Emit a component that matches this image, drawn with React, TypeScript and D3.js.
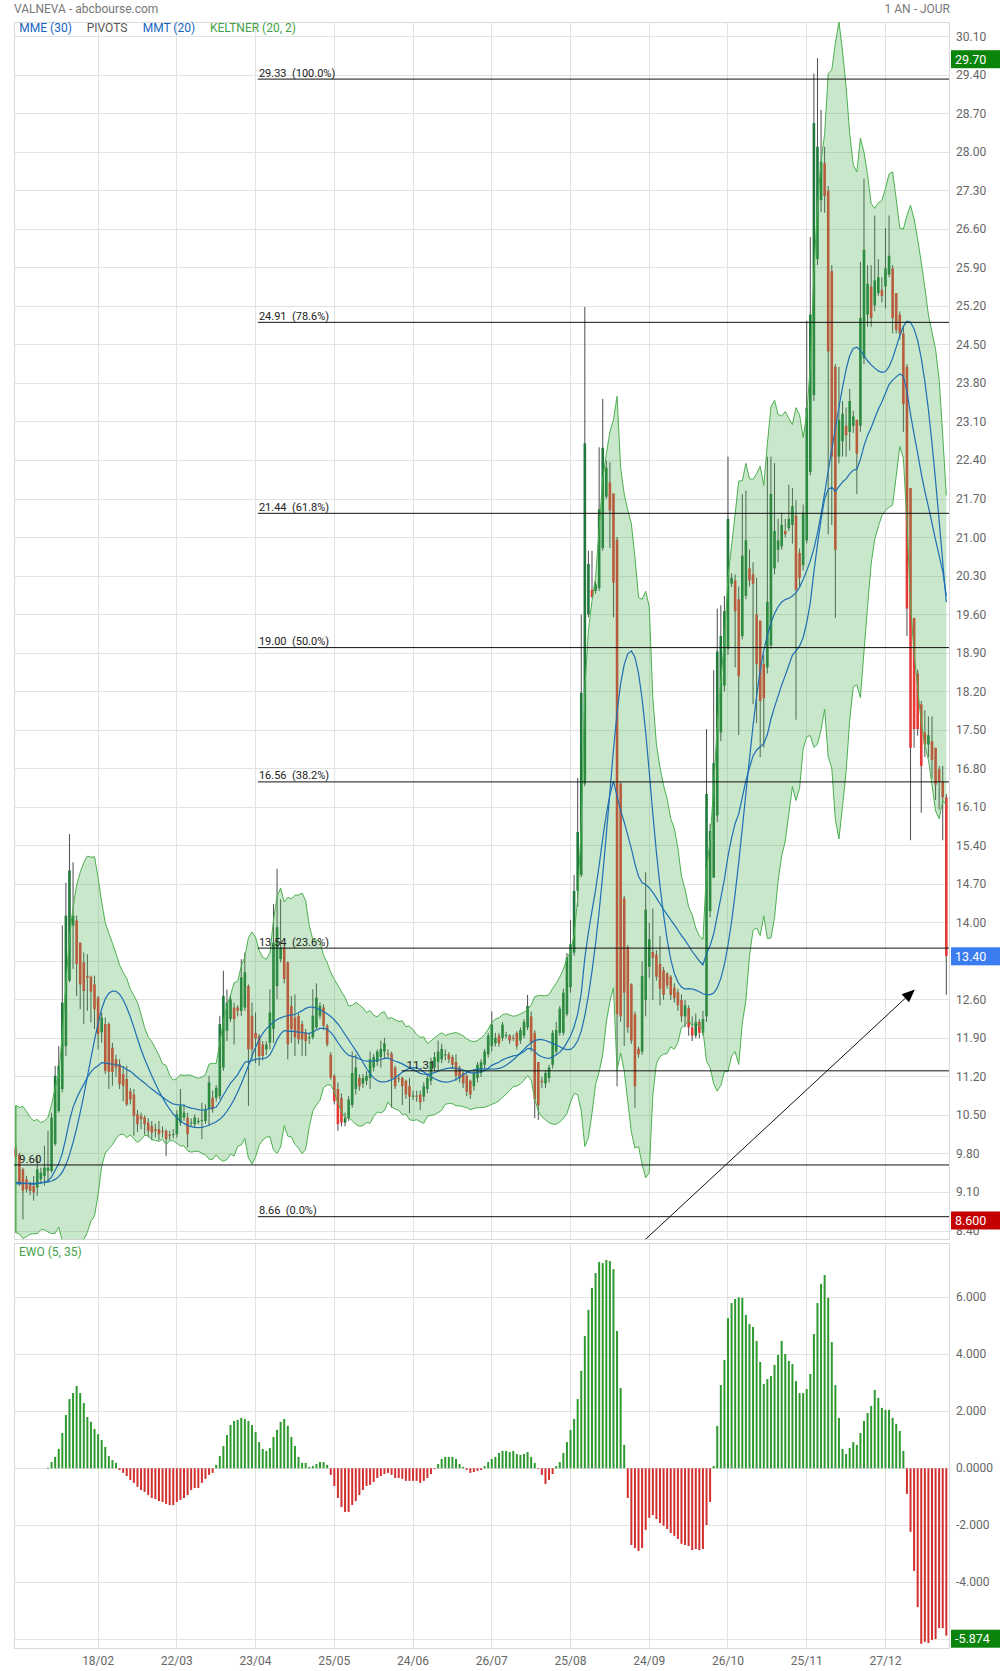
import React from 'react';
import * as d3 from 'd3';

// ---------- DATA ----------
const dateLabels = ['18/02', '22/03', '23/04', '25/05', '24/06', '26/07', '25/08', '24/09', '26/10', '25/11', '27/12'];
const dateIndex = [23, 45, 67, 89, 111, 133, 155, 177, 199, 221, 243];

const open = [
  9.90, 9.79, 9.52, 9.34, 9.25, 9.22, 9.19, 9.34, 9.40, 9.49,
  9.49, 9.98, 10.58, 10.98, 11.76, 12.95, 13.95, 14.04, 13.64, 13.28,
  13.04, 13.02, 12.88, 12.64, 12.01, 12.16, 12.16, 11.73, 11.52, 11.43,
  11.25, 11.16, 10.94, 10.88, 10.52, 10.49, 10.46, 10.37, 10.31, 10.25,
  10.25, 10.22, 10.22, 10.15, 10.16, 10.16, 10.37, 10.46, 10.46, 10.37,
  10.34, 10.40, 10.40, 10.40, 10.61, 10.82, 10.82, 10.85, 11.37, 12.04,
  12.25, 12.46, 12.46, 12.40, 12.46, 12.85, 12.31, 12.00, 11.94, 11.79,
  11.70, 11.82, 12.07, 12.85, 13.34, 13.55, 13.28, 12.49, 12.28, 12.31,
  12.16, 12.01, 11.90, 11.92, 12.10, 12.31, 12.46, 12.13, 11.60, 11.22,
  10.98, 10.82, 10.37, 10.45, 10.69, 10.98, 11.18, 11.08, 11.13, 11.18,
  11.37, 11.47, 11.56, 11.66, 11.63, 11.62, 11.37, 11.18, 11.18, 11.13,
  11.03, 10.84, 10.86, 10.88, 10.84, 10.98, 11.13, 11.37, 11.47, 11.52,
  11.61, 11.61, 11.56, 11.47, 11.37, 11.27, 11.22, 11.13, 11.03, 11.18,
  11.27, 11.42, 11.61, 11.76, 11.81, 11.95, 11.91, 11.95, 11.95, 11.91,
  12.00, 11.86, 11.95, 12.10, 12.30, 12.00, 11.47, 11.13, 11.08, 11.18,
  11.42, 11.66, 12.00, 12.00, 12.34, 12.83, 13.46, 14.58, 14.87, 16.53,
  19.60, 20.05, 20.03, 20.08, 20.81, 21.74, 22.00, 21.80, 20.96, 16.53,
  14.44, 13.56, 12.88, 12.34, 11.71, 11.66, 12.60, 13.20, 13.47, 13.42,
  13.25, 13.14, 13.08, 13.02, 12.82, 12.74, 12.60, 12.30, 12.45, 12.10,
  11.95, 12.20, 12.00, 12.30, 14.21, 14.82, 15.95, 17.46, 18.31, 18.98,
  20.16, 20.22, 19.88, 19.21, 19.94, 20.44, 20.33, 19.60, 19.49, 18.70,
  18.64, 19.04, 20.44, 20.78, 20.84, 21.12, 21.17, 21.23, 21.40, 20.72,
  20.50, 20.95, 22.19, 23.59, 26.06, 27.13, 27.80, 27.30, 25.84, 24.10,
  22.47, 22.75, 23.03, 22.92, 23.03, 23.14, 23.03, 24.26, 25.05, 25.56,
  25.22, 25.44, 25.50, 25.56, 25.78, 25.89, 25.44, 25.05, 24.71, 24.10,
  21.90, 19.54, 18.53, 17.97, 17.46, 17.24, 17.30, 17.18, 16.79, 16.56,
  16.28,
];
const high = [
  10.00, 9.82, 9.55, 9.40, 9.30, 9.40, 9.76, 9.55, 9.95, 10.22,
  10.55, 11.40, 11.76, 13.95, 14.73, 15.61, 15.10, 14.13, 13.64, 13.46,
  13.43, 13.04, 13.04, 12.67, 12.37, 12.28, 12.19, 11.82, 11.60, 11.52,
  11.40, 11.40, 11.00, 10.98, 10.60, 10.55, 10.50, 10.45, 10.40, 10.35,
  10.40, 10.30, 10.25, 10.22, 10.25, 10.60, 10.98, 10.70, 10.55, 10.45,
  10.52, 10.46, 10.73, 10.70, 11.22, 10.95, 11.05, 12.31, 13.13, 12.79,
  12.70, 12.55, 12.50, 13.34, 13.46, 12.88, 12.55, 12.37, 11.98, 11.85,
  11.85, 12.79, 14.34, 14.98, 14.43, 13.60, 13.30, 12.67, 12.70, 12.35,
  12.22, 12.07, 12.00, 12.79, 12.90, 12.55, 12.52, 12.16, 11.65, 11.25,
  11.10, 10.90, 10.55, 10.85, 11.66, 11.61, 11.25, 11.25, 11.30, 11.66,
  11.62, 11.70, 11.86, 11.91, 11.70, 11.66, 11.40, 11.25, 11.20, 11.15,
  11.18, 10.95, 10.95, 10.95, 11.10, 11.25, 11.55, 11.65, 11.86, 11.80,
  11.70, 11.65, 11.60, 11.61, 11.40, 11.30, 11.25, 11.15, 11.32, 11.47,
  11.52, 11.71, 12.00, 12.39, 12.00, 12.00, 12.20, 12.02, 11.98, 11.97,
  12.03, 12.10, 12.25, 12.69, 12.39, 12.05, 11.47, 11.20, 11.32, 11.42,
  12.05, 12.20, 12.49, 12.80, 13.45, 14.05, 14.87, 16.63, 19.60, 25.19,
  20.76, 20.76, 20.20, 22.64, 23.52, 22.40, 22.37, 21.80, 21.01, 16.55,
  14.49, 13.60, 12.90, 12.39, 11.75, 13.30, 14.92, 14.00, 14.26, 13.50,
  13.76, 13.20, 13.10, 13.05, 12.90, 12.80, 12.70, 12.60, 12.50, 12.30,
  12.35, 12.25, 12.40, 17.52, 15.80, 18.59, 19.71, 19.77, 19.94, 22.47,
  20.35, 20.33, 20.11, 21.79, 21.85, 20.78, 20.55, 20.27, 19.49, 18.87,
  22.47, 22.47, 22.35, 21.34, 21.45, 21.34, 21.96, 21.90, 21.68, 20.80,
  21.60, 24.94, 26.46, 29.43, 29.71, 28.77, 28.10, 27.39, 25.95, 24.15,
  24.10, 23.48, 23.36, 23.70, 23.30, 23.14, 26.01, 27.52, 25.95, 25.95,
  26.85, 26.06, 25.73, 26.62, 26.85, 25.95, 25.44, 25.11, 24.83, 24.15,
  21.90, 19.54, 18.60, 18.03, 17.86, 17.75, 17.75, 17.18, 16.85, 16.85,
  16.34,
];
const low = [
  9.60, 9.22, 8.61, 9.10, 9.05, 8.95, 9.04, 9.25, 9.22, 9.28,
  9.46, 9.95, 10.55, 10.92, 11.58, 12.92, 13.16, 12.67, 12.43, 12.16,
  12.40, 12.19, 12.07, 11.70, 11.82, 11.25, 10.98, 11.04, 11.20, 10.98,
  10.76, 10.67, 10.70, 10.13, 10.20, 10.25, 10.15, 10.10, 10.05, 10.10,
  10.05, 10.10, 9.76, 10.05, 10.08, 10.10, 10.31, 10.40, 9.92, 10.30,
  10.28, 10.34, 10.07, 10.35, 10.31, 10.55, 10.75, 10.79, 11.31, 11.85,
  12.20, 11.79, 12.30, 12.31, 12.40, 10.67, 11.52, 11.45, 11.40, 11.50,
  11.60, 11.70, 11.82, 12.61, 13.28, 12.90, 11.52, 11.82, 11.58, 11.80,
  11.58, 11.58, 11.80, 11.88, 12.07, 12.25, 12.05, 11.75, 11.15, 10.70,
  10.22, 10.30, 10.30, 10.40, 10.64, 10.88, 10.95, 11.00, 11.05, 10.98,
  11.30, 11.40, 11.37, 11.52, 11.55, 10.64, 10.98, 11.10, 10.69, 10.80,
  10.54, 10.78, 10.75, 10.60, 10.75, 10.90, 11.05, 11.30, 11.32, 11.45,
  11.50, 11.45, 11.35, 11.13, 11.10, 11.00, 10.85, 10.80, 10.95, 11.10,
  11.20, 11.35, 11.55, 11.66, 11.75, 11.75, 11.85, 11.90, 11.80, 11.85,
  11.70, 11.80, 11.90, 12.05, 11.66, 10.45, 10.42, 11.00, 11.00, 11.10,
  11.35, 11.60, 11.95, 11.95, 12.30, 12.73, 13.40, 14.29, 14.83, 16.48,
  19.55, 19.90, 19.98, 20.03, 20.76, 21.70, 20.81, 19.55, 11.03, 12.20,
  11.76, 12.00, 11.80, 10.64, 11.55, 11.60, 12.30, 13.00, 12.60, 12.95,
  12.50, 12.60, 12.80, 12.60, 12.55, 12.40, 12.20, 12.10, 11.95, 11.85,
  11.90, 11.90, 11.95, 12.20, 14.10, 14.82, 15.83, 17.30, 18.20, 18.87,
  20.10, 18.64, 17.41, 19.15, 19.88, 20.11, 17.97, 17.63, 17.01, 17.18,
  18.53, 18.98, 20.33, 20.55, 20.78, 21.00, 21.12, 20.89, 17.69, 20.10,
  20.40, 20.89, 22.13, 23.48, 25.95, 26.91, 26.90, 21.06, 21.23, 19.54,
  22.35, 22.47, 22.47, 22.58, 22.90, 21.79, 22.92, 24.15, 24.83, 24.83,
  25.11, 25.39, 25.27, 25.16, 25.73, 24.71, 24.71, 24.60, 22.92, 19.21,
  15.50, 17.18, 17.40, 16.00, 17.01, 17.01, 16.62, 16.23, 16.06, 15.50,
  12.69,
];
const close = [
  9.75, 9.25, 9.13, 9.16, 9.13, 9.10, 9.52, 9.46, 9.55, 9.55,
  10.46, 11.22, 11.40, 12.55, 14.13, 14.95, 14.13, 13.25, 12.88, 12.76,
  13.00, 12.75, 12.43, 11.98, 12.28, 11.31, 11.29, 11.29, 11.37, 11.07,
  11.04, 10.70, 10.79, 10.49, 10.34, 10.43, 10.34, 10.22, 10.19, 10.22,
  10.16, 10.20, 10.07, 10.13, 10.16, 10.52, 10.67, 10.55, 10.16, 10.37,
  10.46, 10.40, 10.42, 10.61, 11.10, 10.61, 11.00, 12.16, 12.67, 12.55,
  12.61, 12.25, 12.40, 13.01, 13.10, 11.70, 11.70, 11.90, 11.58, 11.58,
  11.79, 12.37, 13.64, 13.92, 13.55, 12.98, 11.79, 12.07, 11.92, 11.88,
  11.88, 11.85, 11.92, 12.31, 12.64, 12.49, 12.13, 11.79, 11.19, 10.76,
  10.34, 10.37, 10.45, 10.79, 11.27, 11.37, 11.03, 11.18, 11.22, 11.52,
  11.56, 11.66, 11.71, 11.81, 11.61, 11.18, 11.03, 11.16, 11.03, 10.88,
  10.84, 10.86, 10.84, 10.74, 11.03, 11.18, 11.47, 11.56, 11.66, 11.71,
  11.61, 11.52, 11.42, 11.22, 11.18, 11.08, 10.93, 10.88, 11.27, 11.42,
  11.47, 11.66, 11.95, 12.15, 11.91, 11.81, 12.15, 11.96, 11.86, 11.90,
  11.76, 12.05, 12.20, 12.49, 11.81, 10.79, 10.69, 11.10, 11.27, 11.37,
  12.00, 12.05, 12.44, 12.73, 13.37, 13.61, 14.58, 15.65, 18.18, 22.71,
  20.52, 19.92, 20.15, 21.51, 22.63, 22.27, 21.49, 20.18, 12.34, 12.30,
  12.73, 12.10, 11.86, 11.03, 11.61, 13.03, 14.24, 13.70, 13.36, 13.02,
  12.80, 12.69, 12.86, 12.69, 12.63, 12.50, 12.30, 12.50, 12.10, 11.95,
  12.20, 12.00, 12.25, 16.34, 15.67, 16.90, 18.93, 19.21, 19.66, 21.34,
  20.27, 19.66, 18.48, 20.67, 20.95, 20.22, 20.16, 18.70, 18.03, 18.08,
  19.83, 21.79, 21.12, 20.95, 21.23, 21.06, 21.34, 21.57, 20.05, 20.27,
  21.45, 23.36, 25.05, 28.53, 28.10, 27.83, 27.20, 24.38, 22.47, 20.78,
  23.14, 23.25, 22.86, 23.48, 23.20, 22.52, 24.99, 26.23, 25.61, 24.99,
  25.67, 25.73, 25.39, 25.89, 26.12, 24.99, 24.77, 24.71, 23.42, 19.71,
  17.18, 17.52, 17.52, 16.85, 17.24, 17.41, 16.96, 16.51, 16.56, 16.28,
  13.40,
];

// EWO (5, 35) histogram, first bar at index ewoStart
const ewoStart = 9;
const ewo = [
  0.02, 0.22, 0.40, 0.68, 1.24, 1.87, 2.43, 2.64, 2.89, 2.64,
  2.29, 1.80, 1.63, 1.38, 1.20, 0.99, 0.75, 0.43, 0.29, 0.19,
  -0.06, -0.16, -0.27, -0.41, -0.51, -0.65, -0.76, -0.83, -0.94, -1.04,
  -1.08, -1.15, -1.18, -1.25, -1.29, -1.29, -1.18, -1.11, -1.04, -0.94,
  -0.76, -0.69, -0.69, -0.51, -0.37, -0.23, -0.16, 0.12, 0.43, 0.78,
  1.17, 1.52, 1.66, 1.70, 1.77, 1.73, 1.66, 1.52, 1.27, 0.92,
  0.68, 0.61, 0.71, 1.10, 1.35, 1.63, 1.73, 1.49, 1.10, 0.78,
  0.40, 0.19, 0.19, 0.05, 0.08, 0.15, 0.22, 0.22, 0.12, -0.23,
  -0.62, -1.04, -1.36, -1.53, -1.53, -1.29, -1.15, -0.94, -0.76, -0.62,
  -0.58, -0.48, -0.34, -0.27, -0.20, -0.16, -0.23, -0.34, -0.34, -0.37,
  -0.44, -0.44, -0.44, -0.44, -0.51, -0.44, -0.34, -0.20, -0.02, 0.15,
  0.33, 0.40, 0.40, 0.40, 0.33, 0.15, 0.05, -0.06, -0.16, -0.13,
  -0.09, -0.06, 0.08, 0.22, 0.33, 0.40, 0.54, 0.61, 0.61, 0.57,
  0.61, 0.50, 0.47, 0.50, 0.57, 0.40, 0.19, -0.02, -0.23, -0.55,
  -0.41, -0.20, 0.08, 0.22, 0.54, 0.92, 1.35, 1.73, 2.43, 3.42,
  4.64, 5.56, 6.33, 6.85, 7.24, 7.20, 7.31, 7.27, 6.99, 4.82,
  2.82, 0.82, -1.04, -2.69, -2.80, -2.90, -2.80, -2.16, -1.74, -1.64,
  -1.78, -1.92, -2.02, -2.13, -2.27, -2.37, -2.48, -2.65, -2.69, -2.73,
  -2.87, -2.83, -2.87, -2.83, -1.99, -1.18, 0.08, 1.49, 2.92, 3.80,
  5.27, 5.80, 5.94, 6.00, 5.98, 5.38, 5.06, 4.96, 4.47, 3.73,
  2.96, 3.13, 3.24, 3.63, 3.98, 4.47, 4.01, 3.77, 3.66, 3.06,
  2.64, 2.64, 2.78, 3.31, 4.71, 5.80, 6.47, 6.78, 5.98, 4.43,
  2.92, 1.77, 0.68, 0.50, 0.71, 0.92, 0.82, 1.24, 1.66, 1.94,
  2.19, 2.75, 2.47, 2.12, 2.05, 2.05, 1.77, 1.56, 1.31, 0.61,
  -0.90, -2.23, -3.60, -4.87, -6.16, -6.09, -6.13, -6.02, -5.99, -5.61,
  -5.61, -5.874,
];

// Fibonacci retracement levels (drawn from the 23/04 column to the right edge)
const fibLevels = [29.33, 24.91, 21.44, 19.00, 16.56, 13.54, 8.66];
const fibLabels = ['29.33  (100.0%)', '24.91  (78.6%)', '21.44  (61.8%)', '19.00  (50.0%)', '16.56  (38.2%)', '13.54  (23.6%)', '8.66  (0.0%)'];
const fibStartIndex = 67.65;
// Pivot lines
const pivotLevels = [9.60, 11.31];
const pivotLabels = ['9.60', '11.31'];
const pivotStartIndex = [-0.5, 107.8];

// 13.30 has a grid line but its label is hidden under the last-price badge
const priceTicks = [30.10, 29.40, 28.70, 28.00, 27.30, 26.60, 25.90, 25.20, 24.50, 23.80, 23.10, 22.40, 21.70, 21.00, 20.30, 19.60, 18.90, 18.20, 17.50, 16.80, 16.10, 15.40, 14.70, 14.00, 13.30, 12.60, 11.90, 11.20, 10.50, 9.80, 9.10, 8.40];
const priceTickLabels = ['30.10', '29.40', '28.70', '28.00', '27.30', '26.60', '25.90', '25.20', '24.50', '23.80', '23.10', '22.40', '21.70', '21.00', '20.30', '19.60', '18.90', '18.20', '17.50', '16.80', '16.10', '15.40', '14.70', '14.00', '', '12.60', '11.90', '11.20', '10.50', '9.80', '9.10', '8.40'];
const ewoTicks = [6, 4, 2, 0, -2, -4, -6];
const ewoTickLabels = ['6.000', '4.000', '2.000', '0.0000', '-2.000', '-4.000', ''];

const priceBadges = [
  { value: 29.70, label: '29.70', color: '#0a840a' },
  { value: 13.40, label: '13.40', color: '#3b7cf0' },
  { value: 8.60, label: '8.600', color: '#c40000' },
];
const ewoBadge = { value: -5.874, label: '-5.874', color: '#0a840a' };

// arrow annotation in data units [index, price]
const arrowFrom = [170, 7.89];
const arrowTo = [251.2, 12.79];

// starting levels of the averages / channel read at the left edge
const maSeed = 9.25;
const keltnerMidSeed = 9.5;
const keltnerRangeSeed = 0.65;
const keltnerMult = 1.85;

// ---------- indicator helpers ----------
function emaOf(src: number[], p: number, seed: number) {
  const k = 2 / (p + 1);
  let prev = seed;
  return src.map((v) => (prev = prev + k * (v - prev)));
}
function smaOf(src: number[], p: number, seed: number) {
  return src.map((_, i) => {
    let s = 0;
    for (let j = i - p + 1; j <= i; j++) s += j < 0 ? seed : src[j];
    return s / p;
  });
}

const FONT = 'Roboto, "Noto Sans", sans-serif';
const L = 14, R = 949;
const mainTop = 22, mainBot = 1239.3;
const ewoTop = 1243.7, ewoBot = 1648.3;
const GRID = '#e2e2e2';
const BORDER = '#d9d9d9';
const AXIS_TXT = '#666';

export default function App() {
  const n = close.length;
  const x = d3.scaleLinear().domain([-0.5, n - 0.5]).range([L, 948.1]);
  const y = d3.scaleLinear().domain([8.40, 30.10]).range([1231, 36.7]);
  const ye = d3.scaleLinear().domain([-6, 6]).range([1639.3, 1297.3]);

  const mme30 = emaOf(close, 30, maSeed);
  const mmt20 = smaOf(smaOf(close, 10, maSeed), 11, maSeed);
  const tr = close.map((c, i) =>
    i === 0 ? high[i] - low[i] : Math.max(high[i] - low[i], Math.abs(high[i] - close[i - 1]), Math.abs(low[i] - close[i - 1]))
  );
  const mid = emaOf(close, 20, keltnerMidSeed);
  const rng = smaOf(tr, 10, keltnerRangeSeed);
  const upper = mid.map((m, i) => m + keltnerMult * rng[i]);
  const lower = mid.map((m, i) => m - keltnerMult * rng[i]);

  const line = d3.line<number>().x((_, i) => x(i)).y((v) => y(v));
  const area = d3.area<number>().x((_, i) => x(i)).y0((_, i) => y(lower[i])).y1((v) => y(v));

  const bodyW = 2.6;

  // arrow geometry
  const ax1 = x(arrowFrom[0]), ay1 = y(arrowFrom[1]);
  const ax2 = x(arrowTo[0]), ay2 = y(arrowTo[1]);
  const ang = Math.atan2(ay2 - ay1, ax2 - ax1);
  const headL = 13, headW = 5.5;
  const bx = ax2 - headL * Math.cos(ang), by = ay2 - headL * Math.sin(ang);
  const head = [
    [ax2, ay2],
    [bx + headW * Math.sin(ang), by - headW * Math.cos(ang)],
    [bx - headW * Math.sin(ang), by + headW * Math.cos(ang)],
  ];

  return (
    <div style={{ position: 'absolute', left: 0, top: 0 }}>
      <svg width={1000} height={1671} style={{ display: 'block', fontFamily: FONT }}>
        <defs>
          <clipPath id="mainClip">
            <rect x={L} y={mainTop} width={R - L} height={mainBot - mainTop} />
          </clipPath>
          <clipPath id="ewoClip">
            <rect x={L} y={ewoTop} width={R - L} height={ewoBot - ewoTop} />
          </clipPath>
        </defs>
        <rect x={0} y={0} width={1000} height={1671} fill="#fff" />

        {/* header */}
        <text x={14} y={12.5} fontSize={12} fill="#777">VALNEVA - abcbourse.com</text>
        <text x={950} y={12.5} fontSize={12} fill="#777" textAnchor="end">1 AN - JOUR</text>

        {/* main panel grid */}
        <g shapeRendering="crispEdges">
          {priceTicks.map((v, i) => (
            <line key={'hg' + i} x1={L} x2={R} y1={y(v)} y2={y(v)} stroke={GRID} />
          ))}
          {dateIndex.map((d, i) => (
            <line key={'vg' + i} x1={x(d)} x2={x(d)} y1={mainTop} y2={mainBot} stroke={GRID} />
          ))}
          <rect x={L} y={mainTop} width={R - L} height={mainBot - mainTop} fill="none" stroke={BORDER} />
        </g>

        <g clipPath="url(#mainClip)">
          {/* candles */}
          {close.map((c, i) => {
            const o = open[i];
            const up = c >= o;
            const xc = x(i);
            const top = y(Math.max(o, c));
            const h = Math.max(1, Math.abs(y(o) - y(c)));
            return (
              <g key={'c' + i}>
                <line x1={xc} x2={xc} y1={y(high[i])} y2={y(low[i])} stroke="#4d4d4d" strokeWidth={1} />
                <rect x={xc - bodyW / 2} y={top} width={bodyW} height={h} fill={up ? '#1f7a3c' : '#e53935'} />
              </g>
            );
          })}

          {/* Keltner channel */}
          <path d={area(upper) || ''} fill="#4caf50" fillOpacity={0.3} />
          <path d={line(upper) || ''} fill="none" stroke="#4caf50" strokeWidth={1} />
          <path d={line(lower) || ''} fill="none" stroke="#4caf50" strokeWidth={1} />
          <line x1={x(0)} x2={x(0)} y1={y(upper[0])} y2={y(lower[0])} stroke="#4caf50" strokeWidth={1.5} />

          {/* averages */}
          <path d={line(mmt20) || ''} fill="none" stroke="#1f6fb4" strokeWidth={1.2} />
          <path d={line(mme30) || ''} fill="none" stroke="#1f6fb4" strokeWidth={1.2} />

          {/* pivots */}
          {pivotLevels.map((v, i) => (
            <g key={'pv' + i}>
              <line x1={x(pivotStartIndex[i])} x2={R} y1={y(v)} y2={y(v)} stroke="#111" strokeWidth={1} />
              <text x={x(pivotStartIndex[i]) + 5} y={y(v) - 2} fontSize={11.5} fill="#222">{pivotLabels[i]}</text>
            </g>
          ))}
          {/* fibonacci */}
          {fibLevels.map((v, i) => (
            <g key={'fb' + i}>
              <line x1={x(fibStartIndex)} x2={R} y1={y(v)} y2={y(v)} stroke="#111" strokeWidth={1} />
              <text x={x(fibStartIndex) + 1} y={y(v) - 2.5} fontSize={11} fill="#222" style={{ whiteSpace: 'pre' }}>{fibLabels[i]}</text>
            </g>
          ))}

          {/* arrow */}
          <line x1={ax1} y1={ay1} x2={bx} y2={by} stroke="#111" strokeWidth={1} />
          <polygon points={head.map((p) => p.join(',')).join(' ')} fill="#000" />
        </g>

        {/* legend */}
        <g fontSize={12}>
          <text x={19.3} y={32} fill="#1565c0">MME (30)</text>
          <text x={86.7} y={32} fill="#555">PIVOTS</text>
          <text x={142.7} y={32} fill="#1565c0">MMT (20)</text>
          <text x={210} y={32} fill="#43a047">KELTNER (20, 2)</text>
        </g>

        {/* price axis labels */}
        <g fontSize={12} fill={AXIS_TXT}>
          {priceTicks.map((v, i) => (
            priceTickLabels[i] ? <text key={'pl' + i} x={956} y={y(v) + 4}>{priceTickLabels[i]}</text> : null
          ))}
        </g>
        {priceBadges.map((b, i) => (
          <g key={'bd' + i}>
            <rect x={951} y={y(b.value) - 8.5} width={49} height={18} fill={b.color} />
            <text x={955} y={y(b.value) + 5} fontSize={12.5} fill="#fff">{b.label}</text>
          </g>
        ))}

        {/* EWO panel */}
        <g shapeRendering="crispEdges">
          {ewoTicks.map((v, i) => (
            <line key={'eg' + i} x1={L} x2={R} y1={ye(v)} y2={ye(v)} stroke={GRID} />
          ))}
          {dateIndex.map((d, i) => (
            <line key={'evg' + i} x1={x(d)} x2={x(d)} y1={ewoTop} y2={ewoBot} stroke={GRID} />
          ))}
          <rect x={L} y={ewoTop} width={R - L} height={ewoBot - ewoTop} fill="none" stroke={BORDER} />
        </g>
        <g clipPath="url(#ewoClip)">
          {ewo.map((v, k) => {
            const i = k + ewoStart;
            const y0 = ye(0), y1 = ye(v);
            return (
              <rect key={'ew' + k} x={x(i) - 1} width={2} y={Math.min(y0, y1)} height={Math.max(0.8, Math.abs(y1 - y0))}
                fill={v >= 0 ? '#2f9a2f' : '#d32f2f'} />
            );
          })}
        </g>
        <text x={19} y={1256} fontSize={12} fill="#43a047">EWO (5, 35)</text>
        <g fontSize={12} fill={AXIS_TXT}>
          {ewoTicks.map((v, i) => (
            ewoTickLabels[i] ? <text key={'el' + i} x={956} y={ye(v) + 4}>{ewoTickLabels[i]}</text> : null
          ))}
        </g>
        <rect x={951} y={ye(ewoBadge.value) - 6} width={49} height={18} fill={ewoBadge.color} />
        <text x={955} y={ye(ewoBadge.value) + 7.5} fontSize={12.5} fill="#fff">{ewoBadge.label}</text>

        {/* date axis */}
        <g fontSize={12} fill={AXIS_TXT} textAnchor="middle">
          {dateIndex.map((d, i) => (
            <text key={'dl' + i} x={x(d)} y={1665}>{dateLabels[i]}</text>
          ))}
        </g>
      </svg>
    </div>
  );
}
